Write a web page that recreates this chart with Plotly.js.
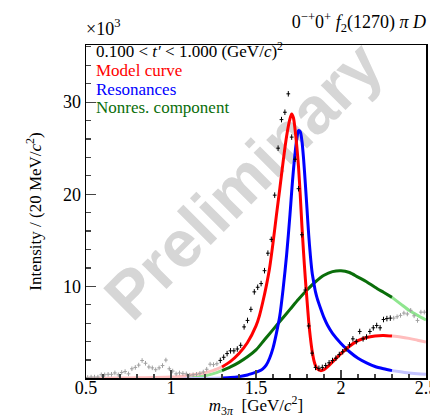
<!DOCTYPE html>
<html>
<head>
<meta charset="utf-8">
<script src="https://cdn.plot.ly/plotly-3.0.1.min.js"></script>
<style>html,body{margin:0;padding:0;background:#fff;}#chart{width:430px;height:418px;}</style>
</head>
<body>
<div id="chart"></div>
<script>
// ---- data: 20 MeV bins, intensity in units of 10^3 ----
const binCenters = [0.51,0.53,0.55,0.57,0.59,0.61,0.63,0.65,0.67,0.69,0.71,0.73,0.75,0.77,0.79,0.81,0.83,0.85,0.87,0.89,
  0.91,0.93,0.95,0.97,0.99,1.01,1.03,1.05,1.07,1.09,1.11,1.13,1.15,1.17,1.19,1.21,1.23,1.25,1.27,1.29,
  1.31,1.33,1.35,1.37,1.39,1.41,1.43,1.45,1.47,1.49,1.51,1.53,1.55,1.57,1.59,1.61,1.63,1.65,1.67,1.69,
  1.71,1.73,1.75,1.77,1.79,1.81,1.83,1.85,1.87,1.89,1.91,1.93,1.95,1.97,1.99,2.01,2.03,2.05,2.07,2.09,
  2.11,2.13,2.15,2.17,2.19,2.21,2.23,2.25,2.27,2.29,2.31,2.33,2.35,2.37,2.39,2.41,2.43,2.45,2.47,2.49];
const intensity = [0.10,0.15,0.15,0.15,0.40,0.40,0.45,0.45,0.60,0.40,0.65,0.75,0.50,1.05,1.20,1.45,1.95,1.65,1.25,1.15,
  0.95,1.15,1.40,2.00,1.05,0.80,0.50,0.60,0.55,0.50,0.35,0.40,0.45,0.55,0.70,1.00,1.55,1.50,1.60,1.96,
  2.30,2.70,3.00,3.00,3.20,3.60,5.60,6.30,7.50,9.40,9.90,10.30,11.70,13.60,15.10,19.90,25.00,28.10,28.90,30.90,
  26.20,23.80,20.60,15.60,9.60,5.70,2.75,1.20,1.10,1.20,1.40,1.70,1.95,2.20,2.60,2.90,3.20,3.65,4.30,4.00,
  5.10,4.30,4.50,5.10,5.50,5.75,5.50,6.40,6.50,6.55,6.55,6.70,6.85,7.10,7.00,7.40,6.80,6.30,7.20,7.20];

// model curves
const redMass = [0.50,0.60,0.70,0.80,0.90,1.00,1.05,1.10,1.15,1.20,1.25,1.30,1.35,1.40,1.45,1.50,1.52,1.54,1.56,1.58,
  1.60,1.62,1.64,1.66,1.68,1.70,1.71,1.72,1.73,1.74,1.75,1.76,1.77,1.78,1.79,1.80,1.81,1.82,1.83,1.84,
  1.85,1.86,1.88,1.90,1.92,1.95,2.00,2.05,2.10,2.15,2.20,2.25,2.30,2.35,2.40,2.45,2.50];
const redValues = [0.02,0.03,0.05,0.07,0.10,0.15,0.22,0.32,0.45,0.62,0.88,1.25,1.85,2.70,3.90,5.70,6.80,8.30,10.0,12.0,
  14.7,17.7,20.6,23.6,26.3,28.2,28.7,28.3,27.0,25.2,23.0,20.0,16.6,13.6,10.9,8.5,6.2,4.4,3.0,2.0,
  1.4,1.05,0.85,0.95,1.25,1.80,2.70,3.50,4.10,4.45,4.62,4.67,4.60,4.50,4.35,4.15,3.95];
const blueMass = [0.50,0.80,1.00,1.20,1.25,1.30,1.35,1.40,1.45,1.50,1.52,1.54,1.56,1.58,1.60,1.62,1.64,1.66,1.68,1.70,
  1.71,1.72,1.73,1.74,1.75,1.76,1.77,1.78,1.79,1.80,1.81,1.82,1.83,1.84,1.85,1.86,1.88,1.90,1.92,1.95,
  2.00,2.05,2.10,2.15,2.20,2.25,2.30,2.35,2.40,2.45,2.50];
const blueValues = [0,0,0,0,0.02,0.05,0.10,0.20,0.38,0.68,0.82,1.05,1.45,2.20,3.30,4.90,6.80,9.80,13.4,17.8,
  20.3,22.6,24.5,26.0,26.9,26.8,25.8,23.8,21.2,18.4,15.6,13.3,11.5,10.4,9.4,8.7,7.6,6.6,5.8,4.9,
  3.8,2.9,2.2,1.7,1.3,1.05,0.85,0.72,0.60,0.50,0.45];
const greenMass = [0.50,0.80,1.00,1.05,1.10,1.15,1.20,1.25,1.30,1.35,1.40,1.45,1.50,1.55,1.60,1.65,1.70,1.75,1.80,1.85,
  1.90,1.95,2.00,2.05,2.10,2.15,2.20,2.25,2.30,2.35,2.40,2.45,2.50];
const greenValues = [0,0,0,0.02,0.06,0.15,0.30,0.52,0.85,1.25,1.75,2.35,3.10,4.20,5.30,6.40,7.50,8.60,9.60,10.5,
  11.2,11.6,11.7,11.5,11.0,10.5,9.9,9.35,8.8,8.1,7.4,6.85,6.35];

const fitRange = [1.28, 2.30];
const yTickVals = [10, 20, 30];

// ---- helpers ----
function part(xs, ys, lo, hi) {
  const x = [], y = [];
  xs.forEach((v, i) => { if (v >= lo - 1e-9 && v <= hi + 1e-9) { x.push(v); y.push(ys[i]); } });
  return {x, y};
}
const curveSpec = [
  {mx: greenMass, my: greenValues, dark: '#0a6e0a', light: '#8fe68f'},
  {mx: blueMass, my: blueValues, dark: '#0000ff', light: '#c4c4ff'},
  {mx: redMass, my: redValues, dark: '#ff0000', light: '#ffbdbd'}
];
const traces = [];
curveSpec.forEach(c => {
  const lo = part(c.mx, c.my, 0, 1.30), hi = part(c.mx, c.my, 2.30, 3);
  [lo, hi].forEach(p => traces.push({x: p.x, y: p.y, type: 'scatter', mode: 'lines',
    line: {color: c.light, width: 3, shape: 'spline', smoothing: 0.8}, hoverinfo: 'skip', showlegend: false}));
});
curveSpec.forEach(c => {
  const mid = part(c.mx, c.my, 1.30, 2.30);
  traces.push({x: mid.x, y: mid.y, type: 'scatter', mode: 'lines',
    line: {color: c.dark, width: 3, shape: 'spline', smoothing: 0.8}, hoverinfo: 'skip', showlegend: false});
});
const inFit = binCenters.map(m => m >= fitRange[0] && m <= fitRange[1]);
const pts = (sel, color, ey) => ({
  x: binCenters.filter((m, i) => sel(i)), y: intensity.filter((v, i) => sel(i)),
  type: 'scatter', mode: 'markers', marker: {size: 1, color: color},
  error_x: {type: 'constant', value: 0.011, width: 0, thickness: 1, color: color},
  error_y: {type: 'constant', value: ey, width: 0, thickness: 1, color: color},
  showlegend: false, hoverinfo: 'skip'
});
traces.push(pts(i => !inFit[i], '#a0a0a0', 0.25));
traces.push(pts(i => inFit[i], '#000000', 0.3));

const serif = 'Liberation Serif, Times New Roman, serif';
const wmX = (265 - 86) / 340, wmY = (378 - 205) / 333;
const layout = {
  width: 430, height: 418,
  margin: {l: 86, r: 4, t: 45, b: 40},
  paper_bgcolor: '#ffffff', plot_bgcolor: '#ffffff',
  font: {family: serif, color: '#000', size: 17},
  showlegend: false,
  title: {text: '0<sup>\u2212+</sup>0<sup>+</sup> <i>f</i><sub>2</sub>(1270) <i>\u03c0 D</i>',
    x: 1, xref: 'paper', xanchor: 'right', y: 1 - 22 / 418, yref: 'container', yanchor: 'middle',
    font: {family: serif, size: 18, color: '#000'}},
  xaxis: {range: [0.5, 2.5], tick0: 0.5, dtick: 0.5, ticks: 'inside', ticklen: 8, tickwidth: 1.2,
    minor: {ticks: 'inside', ticklen: 4, dtick: 0.1, tickwidth: 1.2},
    showline: true, mirror: true, linecolor: '#000', linewidth: 1.5, showgrid: false, zeroline: false,
    ticklabeloverflow: 'allow', ticklabelstandoff: -7,
    tickfont: {family: serif, size: 18, color: '#000'},
    title: {text: '<i>m</i><sub>3<i>\u03c0</i></sub>  [GeV/<i>c</i><sup>2</sup>]', standoff: 11,
      font: {family: serif, size: 17, color: '#000'}}},
  yaxis: {range: [0.05, 36.2], tickmode: 'array', tickvals: yTickVals, ticktext: yTickVals.map(String),
    ticks: 'inside', ticklen: 10, tickwidth: 1.2,
    minor: {ticks: 'inside', ticklen: 5, tickmode: 'linear', tick0: 0, dtick: 2, tickwidth: 1.2},
    showline: true, mirror: true, linecolor: '#000', linewidth: 1.5, showgrid: false, zeroline: false,
    tickfont: {family: serif, size: 18, color: '#000'},
    title: {text: 'Intensity / (20 MeV/<i>c</i><sup>2</sup>)', standoff: 17,
      font: {family: serif, size: 17, color: '#000'}}},
  shapes: [{type: 'line', xref: 'paper', yref: 'paper', x0: wmX - 0.3, y0: wmY - 0.3, x1: wmX + 0.3, y1: wmY + 0.3,
    layer: 'below', line: {width: 0, color: 'rgba(0,0,0,0)'},
    label: {text: '<b>Preliminary</b>', textangle: -45, textposition: 'middle',
      font: {family: 'Liberation Sans, Arial, sans-serif', size: 66, color: '#d6d6d6'}}}],
  annotations: [
    {text: '\u00d710<sup>3</sup>', xref: 'paper', yref: 'paper', x: -0.005, y: (378 - 28) / 333,
      xanchor: 'left', yanchor: 'middle', showarrow: false, font: {family: serif, size: 18, color: '#000'}},
    {text: '0.100 &lt; <i>t\u2032</i> &lt; 1.000 (GeV/<i>c</i>)<sup>2</sup>', xref: 'paper', yref: 'paper',
      x: 0.024, y: (378 - 50) / 333, xanchor: 'left', yanchor: 'middle', showarrow: false,
      font: {family: serif, size: 17, color: '#000'}},
    {text: 'Model curve', xref: 'paper', yref: 'paper', x: 0.024, y: (378 - 70) / 333,
      xanchor: 'left', yanchor: 'middle', showarrow: false, font: {family: serif, size: 17, color: '#ff0000'}},
    {text: 'Resonances', xref: 'paper', yref: 'paper', x: 0.024, y: (378 - 89) / 333,
      xanchor: 'left', yanchor: 'middle', showarrow: false, font: {family: serif, size: 17, color: '#0000ff'}},
    {text: 'Nonres. component', xref: 'paper', yref: 'paper', x: 0.024, y: (378 - 108) / 333,
      xanchor: 'left', yanchor: 'middle', showarrow: false, font: {family: serif, size: 17, color: '#0a6e0a'}}
  ]
};
Plotly.newPlot('chart', traces, layout, {staticPlot: true, displayModeBar: false});
</script>
</body>
</html>
